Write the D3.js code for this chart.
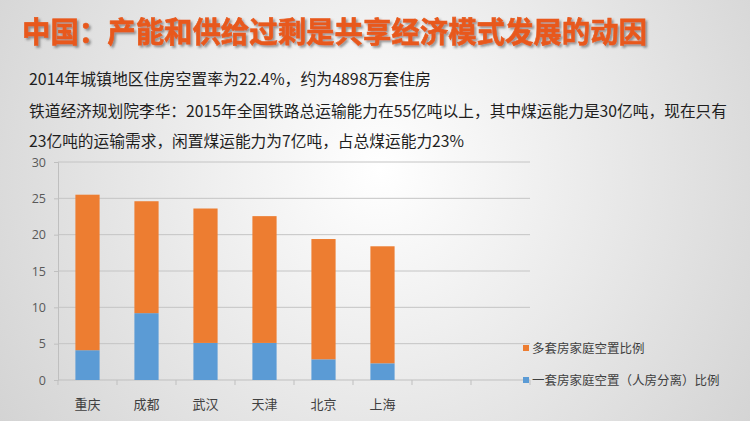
<!DOCTYPE html>
<html><head><meta charset="utf-8">
<script src="https://cdn.jsdelivr.net/npm/d3@7"></script>
<style>
html,body{margin:0;padding:0;overflow:hidden;}
svg{display:block;font-family:"Noto Sans CJK SC","Noto Sans",sans-serif;}
</style></head>
<body>
<svg id="c" width="750" height="421"></svg>
<script>
const title = "中国：产能和供给过剩是共享经济模式发展的动因";
const textLines = [
  "2014年城镇地区住房空置率为22.4%，约为4898万套住房",
  "铁道经济规划院李华：2015年全国铁路总运输能力在55亿吨以上，其中煤运能力是30亿吨，现在只有",
  "23亿吨的运输需求，闲置煤运能力为7亿吨，占总煤运能力23%"
];
const categories = ["重庆","成都","武汉","天津","北京","上海"];
const slotCount = 8;
const singleVacancy = [4.1, 9.2, 5.1, 5.1, 2.85, 2.3];
const multiVacancy = [21.4, 15.4, 18.5, 17.45, 16.55, 16.1];
const seriesNames = ["多套房家庭空置比例","一套房家庭空置（人房分离）比例"];
const yTicks = [0,5,10,15,20,25,30];

const svg = d3.select("#c");
const defs = svg.append("defs");
const rg = defs.append("radialGradient").attr("id","bg")
  .attr("gradientUnits","userSpaceOnUse").attr("cx",380).attr("cy",170).attr("r",470);
rg.append("stop").attr("offset","0%").attr("stop-color","#ffffff");
rg.append("stop").attr("offset","100%").attr("stop-color","#d2d2d2");
const f = defs.append("filter").attr("id","sh").attr("x","-5%").attr("y","-30%").attr("width","110%").attr("height","160%");
f.append("feDropShadow").attr("dx",2).attr("dy",2).attr("stdDeviation",0.8)
  .attr("flood-color","#3c3c3c").attr("flood-opacity",0.5);
svg.append("rect").attr("width",750).attr("height",421).attr("fill","url(#bg)");

svg.append("text").attr("x",22).attr("y",43)
  .attr("font-size",29).attr("font-weight","bold").attr("fill","#e8591c")
  .attr("stroke","#e8591c").attr("stroke-width",0.6)
  .attr("filter","url(#sh)")
  .attr("textLength",625).attr("lengthAdjust","spacingAndGlyphs")
  .text(title);

const lineY = [85,117,147];
const lineLen = [402,698,435];
textLines.forEach((t,i)=>{
  svg.append("text").attr("x",29).attr("y",lineY[i])
    .attr("font-size",15.5).attr("fill","#1e1e1e")
    .attr("textLength",lineLen[i]).attr("lengthAdjust","spacingAndGlyphs")
    .text(t);
});

const x = d3.scaleBand().domain(d3.range(slotCount)).range([58,530]).paddingInner(0.59).paddingOuter(0.295);
const xEdge = d3.scaleLinear().domain([0,slotCount]).range([58,530]);
const y = d3.scaleLinear().domain([0,30]).range([380,162]);

// gridlines
svg.append("g").selectAll("line").data(yTicks.filter(v=>v>0)).join("line")
  .attr("x1",58).attr("x2",530).attr("y1",d=>y(d)).attr("y2",d=>y(d))
  .attr("stroke","#c4c4c4").attr("stroke-width",1);

// y axis
const yAxis = d3.axisLeft(y).tickValues(yTicks).tickSize(4).tickPadding(8);
const ya = svg.append("g").attr("transform","translate(58,0)").call(yAxis);
ya.select(".domain").attr("stroke","#bfbfbf");
ya.selectAll(".tick line").attr("stroke","#bfbfbf");
ya.selectAll("text").attr("font-size",12.5).attr("fill","#595959").attr("font-family","'Open Sans','Noto Sans',sans-serif");

// x axis
svg.append("line").attr("x1",58).attr("x2",530).attr("y1",y(0)).attr("y2",y(0)).attr("stroke","#bfbfbf");
svg.append("g").selectAll("line").data(d3.range(slotCount+1)).join("line")
  .attr("x1",d=>xEdge(d)).attr("x2",d=>xEdge(d)).attr("y1",y(0)).attr("y2",y(0)+5)
  .attr("stroke","#bfbfbf");

// bars
const data = categories.map((c,i)=>({c,i,single:singleVacancy[i],multi:multiVacancy[i]}));
const stack = d3.stack().keys(["single","multi"])(data);
const colors = {single:"#5b9bd5", multi:"#ed7d31"};
svg.append("g").selectAll("g").data(stack).join("g")
  .attr("fill",d=>colors[d.key])
  .selectAll("rect").data(d=>d).join("rect")
  .attr("x",d=>x(d.data.i)).attr("width",x.bandwidth())
  .attr("y",d=>y(d[1])).attr("height",d=>y(d[0])-y(d[1]));

// category labels
svg.append("g").selectAll("text").data(categories).join("text")
  .attr("x",(d,i)=>x(i)+x.bandwidth()/2).attr("y",409)
  .attr("text-anchor","middle").attr("font-size",13).attr("fill","#404040")
  .text(d=>d);

// legend
const legend = [{name:seriesNames[0],color:colors.multi,y:348},{name:seriesNames[1],color:colors.single,y:380}];
const lg = svg.append("g").selectAll("g").data(legend).join("g");
lg.append("rect").attr("x",523).attr("y",d=>d.y-3).attr("width",6).attr("height",6).attr("fill",d=>d.color);
lg.append("text").attr("x",532).attr("y",d=>d.y+5).attr("font-size",12.5).attr("fill","#404040")
  .text(d=>d.name);
</script>
</body></html>
